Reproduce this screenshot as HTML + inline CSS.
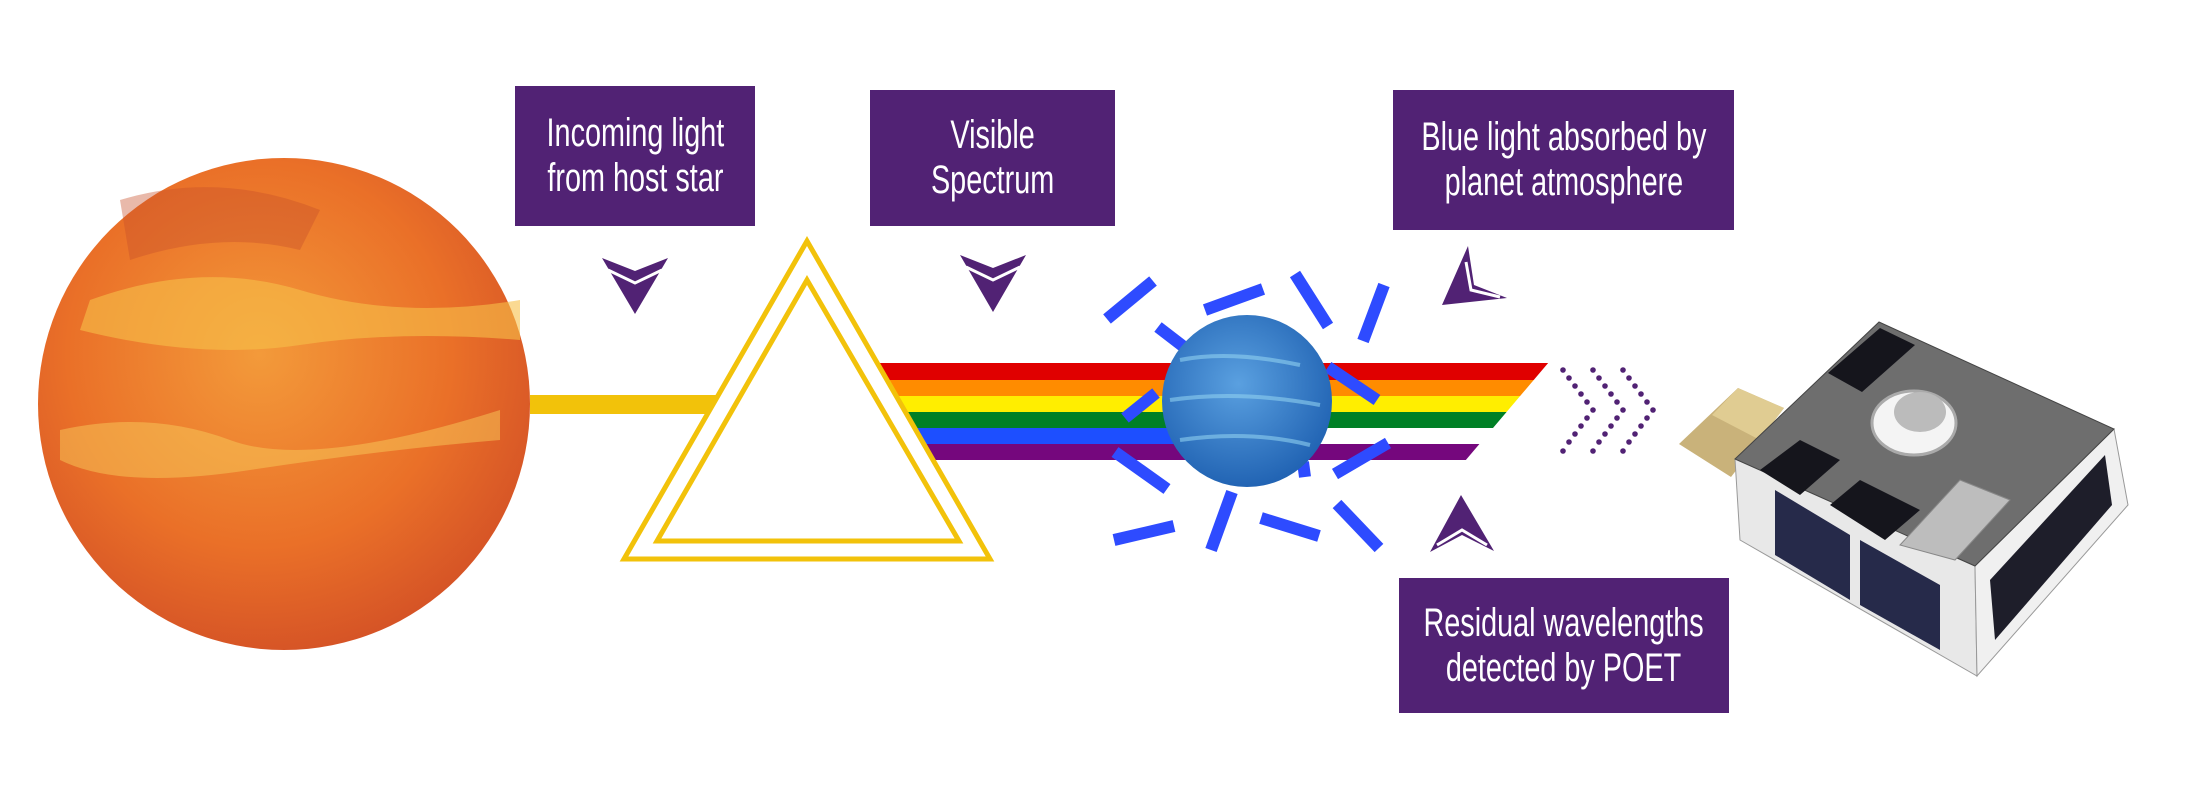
<!DOCTYPE html>
<html><head><meta charset="utf-8"><style>
html,body{margin:0;padding:0;background:#fff;}
body{width:2200px;height:800px;overflow:hidden;position:relative;font-family:"Liberation Sans",sans-serif;}
.box{position:absolute;background:#512274;color:#fff;display:flex;align-items:center;justify-content:center;text-align:center;}
.box span{display:inline-block;font-size:40px;line-height:45px;transform:scaleX(0.72);white-space:nowrap;}
svg{position:absolute;left:0;top:0;}
</style></head><body>
<svg width="2200" height="800" viewBox="0 0 2200 800">
<defs>
<radialGradient id="og" cx="45%" cy="40%" r="65%">
<stop offset="0" stop-color="#f39a3a"/><stop offset="0.6" stop-color="#ea7028"/><stop offset="1" stop-color="#d24f26"/>
</radialGradient>
<radialGradient id="bg" cx="45%" cy="40%" r="65%">
<stop offset="0" stop-color="#5aa0e0"/><stop offset="1" stop-color="#1d5fb0"/>
</radialGradient>
</defs>
<circle cx="284" cy="404" r="246" fill="url(#og)"/>
<path d="M90 300 Q200 260 300 290 T520 300 L520 340 Q400 330 300 345 T80 330Z" fill="#f6c04a" opacity="0.6"/>
<path d="M60 430 Q150 410 230 440 T500 410 L500 440 Q380 450 250 470 T60 460Z" fill="#f8c95a" opacity="0.5"/>
<path d="M120 200 Q220 170 320 210 L300 250 Q220 230 130 260Z" fill="#c8502a" opacity="0.4"/>
<rect x="530" y="395" width="190" height="19" fill="#f2c20a"/>
<rect x="870" y="363" width="680" height="17" fill="#e00000"/>
<rect x="870" y="380" width="680" height="16" fill="#ff8c00"/>
<rect x="870" y="396" width="680" height="16" fill="#ffee00"/>
<rect x="870" y="412" width="680" height="16" fill="#008026"/>
<rect x="870" y="428" width="380" height="16" fill="#1d4fff"/>
<rect x="870" y="444" width="680" height="16" fill="#75077d"/>
<polygon points="1549,362 1560,362 1560,461 1465,461" fill="#fff"/>
<rect x="1330" y="428" width="220" height="16" fill="#fff"/>
<polygon points="807,241 990,559 624,559" fill="#fff" stroke="#f2c20a" stroke-width="5"/>
<polygon points="807,280 959,541 657,541" fill="none" stroke="#f2c20a" stroke-width="5"/>
<g stroke="#2e4bff" stroke-width="12">
<line x1="1107" y1="319" x2="1153" y2="281"/>
<line x1="1205" y1="310" x2="1263" y2="289"/>
<line x1="1295" y1="274" x2="1328" y2="326"/>
<line x1="1384" y1="285" x2="1363" y2="341"/>
<line x1="1158" y1="327" x2="1184" y2="347"/>
<line x1="1328" y1="367" x2="1377" y2="400"/>
<line x1="1125" y1="418" x2="1156" y2="393"/>
<line x1="1388" y1="443" x2="1335" y2="474"/>
<line x1="1115" y1="452" x2="1167" y2="489"/>
<line x1="1303" y1="462" x2="1305" y2="477"/>
<line x1="1114" y1="540" x2="1174" y2="526"/>
<line x1="1232" y1="492" x2="1211" y2="550"/>
<line x1="1261" y1="518" x2="1319" y2="536"/>
<line x1="1337" y1="504" x2="1379" y2="548"/>
</g>
<ellipse cx="1247" cy="401" rx="85" ry="86" fill="url(#bg)"/>
<g stroke="#8fd0f0" stroke-width="4" fill="none" opacity="0.6">
<path d="M1180 360 Q1230 350 1300 365"/><path d="M1170 400 Q1240 390 1320 405"/><path d="M1180 440 Q1250 430 1310 445"/>
</g>
<g fill="#512274">
<polygon points="602,258 635,271 668,258 635,314"/>
<polygon points="960,255 993,268 1026,255 993,312"/>
<polygon points="1468,246 1474,285 1507,298 1442,305"/>
<polygon points="1461,495 1494,551 1462,535 1430,552"/>
</g>
<g stroke="#fff" stroke-width="3" fill="none">
<polyline points="608,270 635,283 662,270"/>
<polyline points="966,267 993,280 1020,267"/>
<polyline points="1466,262 1471,290 1500,297"/>
<polyline points="1437,545 1462,530 1487,545"/>
</g>
<g fill="#512274">
<g id="dc">
<circle cx="1563" cy="370" r="2.8"/><circle cx="1569" cy="378" r="2.8"/><circle cx="1575" cy="386" r="2.8"/><circle cx="1581" cy="394" r="2.8"/><circle cx="1587" cy="402" r="2.8"/><circle cx="1593" cy="410" r="2.8"/>
<circle cx="1587" cy="418" r="2.8"/><circle cx="1581" cy="426" r="2.8"/><circle cx="1575" cy="434" r="2.8"/><circle cx="1569" cy="442" r="2.8"/><circle cx="1563" cy="451" r="2.8"/>
</g>
<use href="#dc" x="30"/><use href="#dc" x="60"/>
</g>
<polygon points="1738,388 1784,408 1731,477 1679,444" fill="#c9b27a"/>
<polygon points="1738,388 1784,408 1760,440 1712,415" fill="#e0cc92"/>
<polygon points="1735,459 1740,540 1977,676 1975,566" fill="#e8e8e8" stroke="#999"/>
<polygon points="1975,566 2114,429 2128,505 1977,676" fill="#f0f0f0" stroke="#999"/>
<polygon points="1990,580 2105,455 2112,505 1995,640" fill="#1e1e2a"/>
<polygon points="1775,490 1850,535 1850,600 1775,555" fill="#262a4a"/>
<polygon points="1860,540 1940,585 1940,650 1860,605" fill="#262a4a"/>
<polygon points="1735,459 1879,322 2114,429 1975,566" fill="#6e6e6e" stroke="#444"/>
<polygon points="1828,373 1880,328 1915,345 1862,392" fill="#15151c"/>
<polygon points="1760,470 1800,440 1840,460 1800,495" fill="#15151c"/>
<polygon points="1830,505 1860,480 1920,510 1885,540" fill="#15151c"/>
<polygon points="1900,545 1960,480 2010,500 1955,560" fill="#bdbdbd" stroke="#888"/>
<ellipse cx="1914" cy="423" rx="42" ry="32" fill="#f4f4f4" stroke="#aaa" stroke-width="3"/>
<ellipse cx="1920" cy="412" rx="26" ry="20" fill="#bbb"/>
</svg>
<div class="box" style="left:515px;top:86px;width:240px;height:140px;"><span>Incoming light<br>from host star</span></div>
<div class="box" style="left:870px;top:90px;width:245px;height:136px;"><span>Visible<br>Spectrum</span></div>
<div class="box" style="left:1393px;top:90px;width:341px;height:140px;"><span>Blue light absorbed by<br>planet atmosphere</span></div>
<div class="box" style="left:1399px;top:578px;width:330px;height:135px;"><span>Residual wavelengths<br>detected by POET</span></div>
</body></html>
